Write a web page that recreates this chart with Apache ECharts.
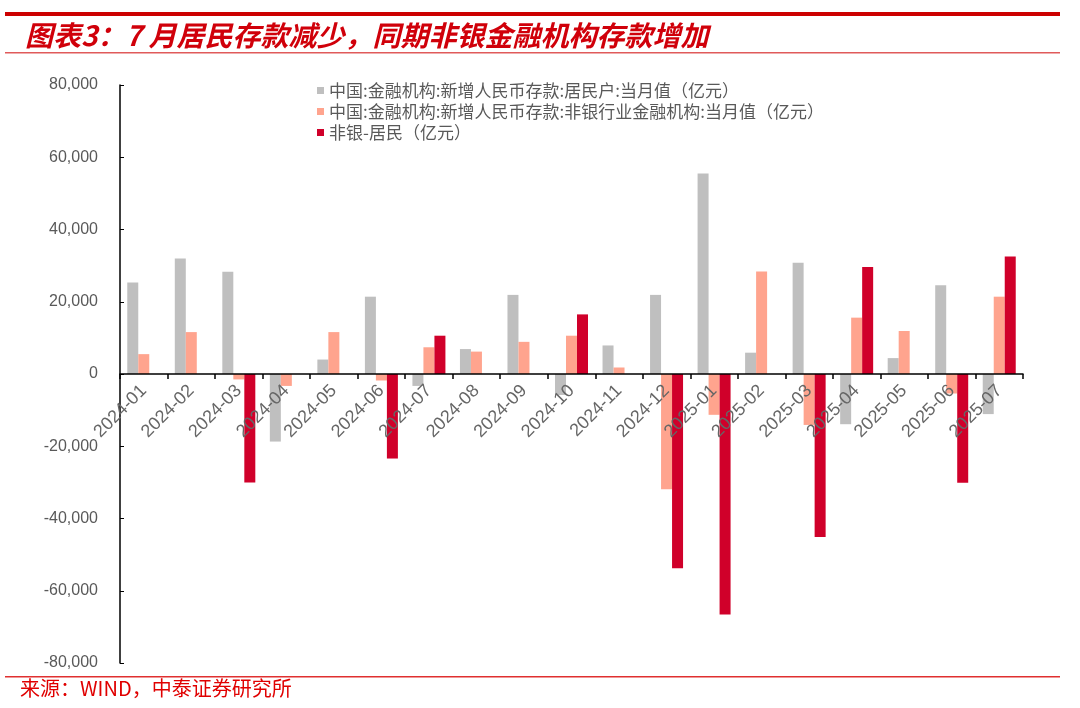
<!DOCTYPE html>
<html>
<head>
<meta charset="utf-8">
<script src="https://cdn.jsdelivr.net/npm/echarts@6/dist/echarts.min.js"></script>
<style>
html,body{margin:0;padding:0;background:#fff;}
#c{width:1080px;height:708px;}
</style>
</head>
<body>
<div id="c"></div>
<script>
var categories = ['2024-01','2024-02','2024-03','2024-04','2024-05','2024-06','2024-07','2024-08','2024-09','2024-10','2024-11','2024-12','2025-01','2025-02','2025-03','2025-04','2025-05','2025-06','2025-07'];
var household = [25300, 32000, 28300, -18700, 4000, 21400, -3300, 6900, 21900, -5800, 7900, 21900, 55500, 5900, 30800, -13900, 4400, 24600, -11100];
var nonbank = [5500, 11600, -1500, -3300, 11600, -1800, 7400, 6200, 8900, 10600, 1800, -31900, -11300, 28400, -14100, 15600, 11900, -5400, 21400];
var diff = [null, null, -30000, null, null, -23400, 10600, null, null, 16500, null, -53800, -66600, null, -45100, 29600, null, -30100, 32500];
var seriesNames = ['中国:金融机构:新增人民币存款:居民户:当月值（亿元）', '中国:金融机构:新增人民币存款:非银行业金融机构:当月值（亿元）', '非银-居民（亿元）'];
var yTicks = {min: -80000, max: 80000, interval: 20000};
var titleText = '图表3：7 月居民存款减少，同期非银金融机构存款增加';
var sourceText = '来源：WIND，中泰证券研究所';

var chart = echarts.init(document.getElementById('c'));
var cjk = '"Noto Sans CJK SC", sans-serif';
var gridTop = 85, gridBottom = 45;
var gridH = 708 - gridTop - gridBottom;
chart.setOption({
  animation: false,
  backgroundColor: '#fff',
  title: {
    text: titleText,
    left: 20, top: 16,
    textStyle: {color: '#D0000A', fontSize: 28, fontWeight: 'bold', fontStyle: 'italic', fontFamily: cjk}
  },
  graphic: [
    {type: 'rect', shape: {x: 5, y: 12, width: 1055, height: 4}, style: {fill: '#CC0000'}},
    {type: 'rect', shape: {x: 5, y: 52, width: 1055, height: 1.5}, style: {fill: '#E05a5a'}},
    {type: 'rect', shape: {x: 5, y: 676, width: 1055, height: 1.5}, style: {fill: '#E03030'}},
    {type: 'text', left: 20, top: 678, style: {text: sourceText, fill: '#E00000', fontSize: 20, fontFamily: cjk}}
  ],
  legend: {
    orient: 'vertical',
    left: 312, top: 77,
    itemWidth: 7, itemHeight: 7, itemGap: 4,
    icon: 'rect',
    textStyle: {color: '#595959', fontSize: 17, fontFamily: cjk},
    data: seriesNames
  },
  grid: {left: 120, right: 57, top: gridTop, bottom: gridBottom, containLabel: false, outerBoundsMode: 'none'},
  xAxis: {
    type: 'category',
    data: categories,
    offset: -gridH / 2,
    z: 5,
    axisLine: {onZero: false, lineStyle: {color: '#000', width: 1.5}},
    axisTick: {show: true, length: 5, lineStyle: {color: '#000', width: 1.5}},
    axisLabel: {rotate: 45, color: '#666666', fontSize: 18, margin: 14, fontFamily: 'Liberation Sans, sans-serif', interval: 0},
    splitLine: {show: false}
  },
  yAxis: {
    type: 'value',
    min: yTicks.min, max: yTicks.max, interval: yTicks.interval,
    axisLine: {show: true, lineStyle: {color: '#000', width: 1.5}},
    axisTick: {show: true, inside: true, length: 4, lineStyle: {color: '#000'}},
    axisLabel: {color: '#595959', fontSize: 16, margin: 22, fontFamily: 'Liberation Sans, sans-serif'},
    splitLine: {show: false}
  },
  series: [
    {name: seriesNames[0], type: 'bar', data: household, barWidth: 11, barGap: '0%', itemStyle: {color: '#BFBFBF'}},
    {name: seriesNames[1], type: 'bar', data: nonbank, barWidth: 11, barGap: '0%', itemStyle: {color: '#FFA48E'}},
    {name: seriesNames[2], type: 'bar', data: diff, barWidth: 11, barGap: '0%', itemStyle: {color: '#D0002A'}}
  ]
});
</script>
</body>
</html>
